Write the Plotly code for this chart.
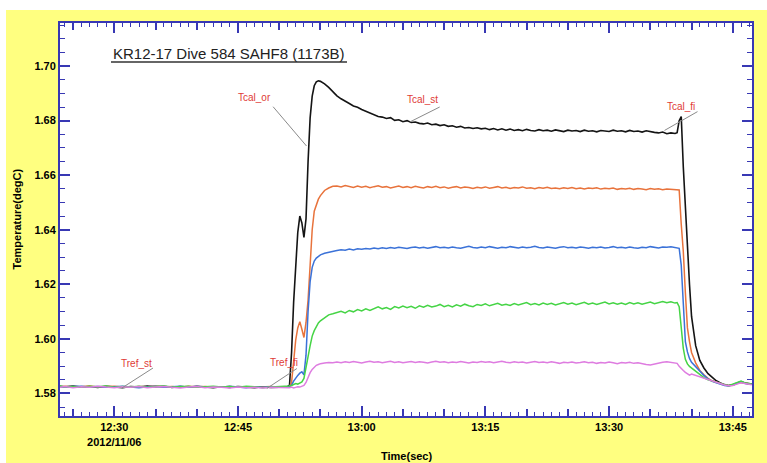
import pandas as pd
import plotly.graph_objects as go

# ---------------------------------------------------------------- data ----
DAY_START = pd.Timestamp("2012-11-06 12:00:00")

# sample times, minutes after 12:00
T_MIN = [
    23.4, 24, 25, 26, 27, 28, 29, 30, 31, 32, 33, 34, 35, 36, 37, 38, 39, 40,
    41, 42, 43, 44, 45, 46, 47, 48, 49, 50, 50.5, 51.0,
    51.25, 51.5, 51.75, 52.0, 52.25, 52.5, 52.75, 53.0, 53.25, 53.5, 53.75,
    54.0, 54.25, 54.5, 54.75, 55.0, 55.5, 56.0, 56.5,
    57, 57.5, 58, 58.5, 59, 59.5, 60, 60.5, 61, 61.5, 62, 62.5, 63, 63.5, 64,
    64.5, 65, 65.5, 66, 66.5, 67, 67.5, 68, 68.5, 69, 69.5, 70, 70.5, 71, 71.5,
    72, 72.5, 73, 73.5, 74, 74.5, 75, 75.5, 76, 76.5, 77, 77.5, 78, 78.5, 79,
    79.5, 80, 80.5, 81, 81.5, 82, 82.5, 83, 83.5, 84, 84.5, 85, 85.5, 86, 86.5,
    87, 87.5, 88, 88.5, 89, 89.5, 90, 90.5, 91, 91.5, 92, 92.5, 93, 93.5, 94,
    94.5, 95, 95.5, 96, 96.5, 97, 97.5, 98,
    98.25, 98.5, 98.75, 99.0, 99.25, 99.5, 99.75, 100.0,
    100.5, 101, 101.5, 102, 102.5, 103, 103.5, 104, 104.5, 105, 105.5, 106,
    106.5, 107, 107.3,
]

TCAL_OR = [
    1.5826, 1.5824, 1.5827, 1.5823, 1.5825, 1.5822, 1.5826, 1.5824, 1.5821, 1.5825,
    1.5823, 1.5827, 1.5824, 1.5826, 1.5822, 1.5825, 1.5823, 1.5826, 1.5824, 1.5821,
    1.5824, 1.5822, 1.5825, 1.5823, 1.5821, 1.5824, 1.5822, 1.5823, 1.5824, 1.5825,
    1.5830, 1.5950, 1.6135, 1.6290, 1.6390, 1.6450, 1.6425, 1.6372, 1.6440, 1.6650,
    1.6810, 1.6890, 1.6928, 1.6942, 1.6946, 1.6944, 1.6935, 1.6922, 1.6907,
    1.6891, 1.6880, 1.6870, 1.6863, 1.6854, 1.6849, 1.6841, 1.6835, 1.6829, 1.6822,
    1.6815, 1.6813, 1.6808, 1.6811, 1.6801, 1.6803, 1.6796, 1.6800, 1.6793, 1.6795,
    1.6790, 1.6788, 1.6791, 1.6785, 1.6787, 1.6782, 1.6785, 1.6779, 1.6781, 1.6776,
    1.6779, 1.6773, 1.6775, 1.6771, 1.6774, 1.6770, 1.6772, 1.6767, 1.6771, 1.6766,
    1.6770, 1.6765, 1.6769, 1.6764, 1.6767, 1.6763, 1.6768, 1.6764, 1.6762, 1.6767,
    1.6763, 1.6765, 1.6761, 1.6766, 1.6763, 1.6760, 1.6765, 1.6762, 1.6764, 1.6760,
    1.6765, 1.6761, 1.6763, 1.6759, 1.6764, 1.6762, 1.6760, 1.6765, 1.6761, 1.6763,
    1.6759, 1.6764, 1.6760, 1.6762, 1.6758, 1.6763, 1.6759, 1.6757, 1.6755, 1.6758,
    1.6752, 1.6755, 1.6753,
    1.6756, 1.6800, 1.6815, 1.6630, 1.6480, 1.6310, 1.6200, 1.6082,
    1.5975, 1.5921, 1.5893, 1.5872, 1.5858, 1.5846, 1.5838, 1.5832, 1.5829, 1.5831,
    1.5837, 1.5842, 1.5838, 1.5836, 1.5834,
]

ORANGE = [
    1.5823, 1.5826, 1.5822, 1.5825, 1.5827, 1.5823, 1.5824, 1.5826, 1.5823, 1.5822,
    1.5825, 1.5824, 1.5827, 1.5823, 1.5825, 1.5822, 1.5826, 1.5823, 1.5825, 1.5822,
    1.5823, 1.5825, 1.5822, 1.5824, 1.5822, 1.5823, 1.5825, 1.5822, 1.5824, 1.5823,
    1.5825, 1.5840, 1.5920, 1.5995, 1.6040, 1.6063, 1.6035, 1.6005, 1.6060, 1.6142,
    1.6270, 1.6400, 1.6468, 1.6495, 1.6512, 1.6525, 1.6544, 1.6553, 1.6559,
    1.6560, 1.6557, 1.6562, 1.6558, 1.6555, 1.6560, 1.6556, 1.6559, 1.6554, 1.6558,
    1.6561, 1.6556, 1.6558, 1.6553, 1.6557, 1.6560, 1.6555, 1.6558, 1.6554, 1.6559,
    1.6556, 1.6553, 1.6558, 1.6555, 1.6559, 1.6554, 1.6557, 1.6552, 1.6556, 1.6558,
    1.6553, 1.6557, 1.6555, 1.6551, 1.6556, 1.6553, 1.6557, 1.6552, 1.6555, 1.6558,
    1.6553, 1.6556, 1.6551, 1.6555, 1.6553, 1.6557, 1.6552, 1.6554, 1.6550, 1.6555,
    1.6552, 1.6556, 1.6551, 1.6553, 1.6550, 1.6554, 1.6551, 1.6555, 1.6550, 1.6553,
    1.6549, 1.6553, 1.6551, 1.6554, 1.6549, 1.6552, 1.6550, 1.6553, 1.6548, 1.6551,
    1.6549, 1.6552, 1.6548, 1.6551, 1.6549, 1.6547, 1.6551, 1.6548, 1.6550, 1.6547,
    1.6549, 1.6548, 1.6547,
    1.6548, 1.6546, 1.6420, 1.6320, 1.6170, 1.6040, 1.5990, 1.5950,
    1.5912, 1.5884, 1.5868, 1.5855, 1.5846, 1.5840, 1.5836, 1.5831, 1.5828, 1.5830,
    1.5836, 1.5840, 1.5837, 1.5835, 1.5833,
]

BLUE = [
    1.5824, 1.5822, 1.5825, 1.5826, 1.5823, 1.5825, 1.5822, 1.5824, 1.5826, 1.5823,
    1.5821, 1.5824, 1.5826, 1.5822, 1.5824, 1.5826, 1.5822, 1.5825, 1.5823, 1.5824,
    1.5822, 1.5826, 1.5823, 1.5821, 1.5824, 1.5822, 1.5824, 1.5823, 1.5822, 1.5824,
    1.5826, 1.5830, 1.5845, 1.5858, 1.5866, 1.5874, 1.5879, 1.5868, 1.5940, 1.6100,
    1.6210, 1.6262, 1.6285, 1.6296, 1.6304, 1.6308, 1.6314, 1.6318, 1.6321,
    1.6324, 1.6327, 1.6325, 1.6329, 1.6326, 1.6330, 1.6328, 1.6331, 1.6329, 1.6333,
    1.6330, 1.6334, 1.6331, 1.6335, 1.6332, 1.6336, 1.6333, 1.6331, 1.6335, 1.6337,
    1.6333, 1.6336, 1.6332, 1.6335, 1.6338, 1.6334, 1.6336, 1.6333, 1.6337, 1.6334,
    1.6332, 1.6336, 1.6339, 1.6335, 1.6333, 1.6337, 1.6334, 1.6338, 1.6335, 1.6332,
    1.6336, 1.6334, 1.6338, 1.6335, 1.6333, 1.6337, 1.6334, 1.6336, 1.6339, 1.6335,
    1.6333, 1.6337, 1.6334, 1.6332, 1.6336, 1.6338, 1.6334, 1.6336, 1.6333, 1.6337,
    1.6335, 1.6332, 1.6336, 1.6334, 1.6337, 1.6333, 1.6335, 1.6338, 1.6334, 1.6336,
    1.6333, 1.6337, 1.6334, 1.6332, 1.6336, 1.6334, 1.6338, 1.6335, 1.6333, 1.6337,
    1.6336, 1.6338, 1.6335,
    1.6334, 1.6332, 1.6270, 1.6120, 1.5990, 1.5952, 1.5928, 1.5914,
    1.5898, 1.5880, 1.5866, 1.5853, 1.5844, 1.5839, 1.5834, 1.5829, 1.5827, 1.5831,
    1.5838, 1.5843, 1.5836, 1.5834, 1.5833,
]

GREEN = [
    1.5827, 1.5823, 1.5825, 1.5822, 1.5826, 1.5824, 1.5827, 1.5822, 1.5825, 1.5823,
    1.5826, 1.5822, 1.5825, 1.5827, 1.5823, 1.5824, 1.5826, 1.5822, 1.5824, 1.5826,
    1.5823, 1.5825, 1.5822, 1.5826, 1.5824, 1.5821, 1.5823, 1.5825, 1.5824, 1.5826,
    1.5827, 1.5829, 1.5833, 1.5836, 1.5834, 1.5838, 1.5842, 1.5855, 1.5890, 1.5935,
    1.5975, 1.6010, 1.6030, 1.6046, 1.6058, 1.6066, 1.6078, 1.6088, 1.6092,
    1.6096, 1.6101, 1.6095, 1.6104, 1.6099, 1.6107, 1.6102, 1.6110, 1.6104, 1.6112,
    1.6117, 1.6110, 1.6115, 1.6108, 1.6118, 1.6113, 1.6120, 1.6114, 1.6119, 1.6112,
    1.6121, 1.6116, 1.6123, 1.6117, 1.6120, 1.6126, 1.6118, 1.6123, 1.6117, 1.6125,
    1.6120, 1.6127, 1.6121, 1.6118, 1.6126, 1.6122, 1.6128, 1.6121, 1.6125, 1.6130,
    1.6123, 1.6127, 1.6122, 1.6129, 1.6124, 1.6128, 1.6133, 1.6125, 1.6129, 1.6124,
    1.6131, 1.6126, 1.6130, 1.6124, 1.6128, 1.6133, 1.6127, 1.6131, 1.6125, 1.6130,
    1.6134, 1.6127, 1.6131, 1.6126, 1.6130, 1.6135, 1.6128, 1.6132, 1.6127, 1.6131,
    1.6126, 1.6133, 1.6128, 1.6132, 1.6127, 1.6131, 1.6135, 1.6129, 1.6133, 1.6137,
    1.6132, 1.6136, 1.6131,
    1.6133, 1.6118, 1.6045, 1.5965, 1.5925, 1.5908, 1.5899, 1.5893,
    1.5880, 1.5868, 1.5858, 1.5850, 1.5845, 1.5841, 1.5837, 1.5832, 1.5828, 1.5833,
    1.5840, 1.5845, 1.5838, 1.5836, 1.5834,
]

MAGENTA = [
    1.5822, 1.5825, 1.5821, 1.5824, 1.5822, 1.5826, 1.5823, 1.5821, 1.5824, 1.5822,
    1.5825, 1.5821, 1.5823, 1.5825, 1.5822, 1.5820, 1.5823, 1.5825, 1.5821, 1.5823,
    1.5822, 1.5820, 1.5823, 1.5821, 1.5822, 1.5820, 1.5822, 1.5821, 1.5820, 1.5822,
    1.5821, 1.5823, 1.5820, 1.5822, 1.5824, 1.5823, 1.5826, 1.5829, 1.5840, 1.5860,
    1.5876, 1.5888, 1.5896, 1.5903, 1.5906, 1.5909, 1.5911, 1.5913, 1.5912,
    1.5915, 1.5912, 1.5916, 1.5913, 1.5917, 1.5914, 1.5911, 1.5915, 1.5918, 1.5914,
    1.5916, 1.5912, 1.5915, 1.5918, 1.5913, 1.5916, 1.5912, 1.5915, 1.5917, 1.5913,
    1.5916, 1.5914, 1.5911, 1.5915, 1.5918, 1.5914, 1.5916, 1.5912, 1.5915, 1.5913,
    1.5917, 1.5914, 1.5911, 1.5915, 1.5913, 1.5917, 1.5914, 1.5916, 1.5912, 1.5915,
    1.5918, 1.5914, 1.5912, 1.5916, 1.5913, 1.5915, 1.5911, 1.5914, 1.5917, 1.5913,
    1.5915, 1.5912, 1.5916, 1.5913, 1.5910, 1.5914, 1.5912, 1.5915, 1.5911, 1.5913,
    1.5916, 1.5912, 1.5914, 1.5910, 1.5913, 1.5911, 1.5915, 1.5912, 1.5909, 1.5913,
    1.5911, 1.5914, 1.5910, 1.5912, 1.5908, 1.5906, 1.5904, 1.5908, 1.5911, 1.5914,
    1.5916, 1.5914, 1.5911,
    1.5910, 1.5899, 1.5890, 1.5884, 1.5877, 1.5872, 1.5867, 1.5871,
    1.5866, 1.5861, 1.5856, 1.5850, 1.5845, 1.5840, 1.5836, 1.5831, 1.5828, 1.5829,
    1.5834, 1.5839, 1.5836, 1.5834, 1.5832,
]

SERIES = [
    ("Tcal_or", TCAL_OR, "#141414", 1.6),
    ("ch2", ORANGE, "#e8733c", 1.5),
    ("ch3", BLUE, "#3b72d8", 1.5),
    ("ch4", GREEN, "#45d445", 1.5),
    ("ch5", MAGENTA, "#de7ce0", 1.5),
]

X_RANGE = [23.42, 107.33]          # minutes after 12:00
Y_RANGE = [1.5717, 1.7158]

LABEL_TIMES = [30, 45, 60, 75, 90, 105]
LABEL_TEXT = ["12:30<br>2012/11/06", "12:45", "13:00", "13:15", "13:30", "13:45"]

TITLE = "KR12-17 Dive 584 SAHF8 (1173B)"

# marker labels: text, text position (min, degC), leader line start/end (min, degC)
MARKERS = [
    ("Tcal_or", 46.99, 1.6885, 49.26, 1.6851, 53.31, 1.6707),
    ("Tcal_st", 67.34, 1.6879, 69.46, 1.6850, 65.83, 1.6795),
    ("Tcal_fi", 98.66, 1.6853, 100.72, 1.6833, 96.72, 1.6764),
    ("Tref_st", 32.69, 1.5911, 34.70, 1.5893, 30.94, 1.5820),
    ("Tref_fi", 50.56, 1.5915, 52.14, 1.5891, 48.50, 1.5818),
]

for _, vals, _, _ in SERIES:
    assert len(vals) == len(T_MIN)


def to_time(minutes):
    return DAY_START + pd.to_timedelta(minutes, unit="m")


# --------------------------------------------------------------- style ----
AXIS_BLUE = "#3838b4"
YELLOW = "#ffff80"
FONT = "Liberation Sans, Arial, sans-serif"

W, H = 767, 463
ML, MR, MT, MB = 60, 15, 23, 47
PW, PH = W - ML - MR, H - MT - MB


def px_x(x):
    return (x - ML) / PW


def px_y(y):
    return (H - MB - y) / PH


fig = go.Figure()

times = to_time(T_MIN)
for name, vals, color, width in SERIES:
    fig.add_trace(go.Scatter(
        x=times, y=vals, mode="lines", name=name,
        line=dict(color=color, width=width),
        showlegend=False, hoverinfo="skip",
    ))

# empty trace that carries the labelled time axis
fig.add_trace(go.Scatter(x=[], y=[], xaxis="x2", yaxis="y",
                         showlegend=False, hoverinfo="skip"))

x_range = [to_time(X_RANGE[0]), to_time(X_RANGE[1])]
tick_font = dict(family=FONT, size=11, color="black", weight="bold")

fig.update_layout(
    width=W, height=H,
    margin=dict(l=ML, r=MR, t=MT, b=MB),
    paper_bgcolor=YELLOW, plot_bgcolor="white",
    showlegend=False,
    xaxis=dict(
        type="date", range=x_range,
        tickmode="linear", tick0=DAY_START, dtick=300000,
        ticks="inside", ticklen=7, tickwidth=1.5, tickcolor=AXIS_BLUE,
        showticklabels=False,
        showline=True, linecolor=AXIS_BLUE, linewidth=2, mirror="ticks",
        showgrid=False, zeroline=False,
        minor=dict(tickmode="linear", tick0=DAY_START, dtick=60000,
                   ticks="inside", ticklen=4, tickwidth=1,
                   tickcolor=AXIS_BLUE, showgrid=False),
    ),
    xaxis2=dict(
        type="date", range=x_range, overlaying="x", anchor="y", side="bottom",
        tickmode="array", tickvals=to_time(LABEL_TIMES), ticktext=LABEL_TEXT,
        ticks="inside", ticklen=10, tickwidth=1.5, tickcolor=AXIS_BLUE,
        tickfont=tick_font,
        showline=True, linecolor=AXIS_BLUE, linewidth=2, mirror="ticks",
        showgrid=False, zeroline=False,
    ),
    yaxis=dict(
        range=Y_RANGE,
        tickmode="linear", tick0=1.58, dtick=0.02, tickformat=".2f",
        ticks="inside", ticklen=10, tickwidth=1.5, tickcolor=AXIS_BLUE,
        tickfont=tick_font,
        showline=True, linecolor=AXIS_BLUE, linewidth=2, mirror="ticks",
        showgrid=False, zeroline=False,
        minor=dict(tickmode="linear", tick0=1.58, dtick=0.005,
                   ticks="inside", ticklen=5, tickwidth=1,
                   tickcolor=AXIS_BLUE, showgrid=False),
    ),
)

annotations = [
    dict(text="Temperature(degC)", xref="paper", yref="paper",
         x=px_x(16), y=0.5, textangle=-90, showarrow=False,
         font=dict(family=FONT, size=11, color="black", weight="bold"),
         xanchor="center", yanchor="middle"),
    dict(text="Time(sec)", xref="paper", yref="paper",
         x=px_x(407), y=px_y(456), showarrow=False,
         font=dict(family=FONT, size=11, color="black", weight="bold"),
         xanchor="center", yanchor="middle"),
    dict(text=TITLE, xref="paper", yref="paper",
         x=px_x(111), y=px_y(53), showarrow=False,
         font=dict(family=FONT, size=15, color="#222222"),
         xanchor="left", yanchor="middle"),
]

shapes = [
    # white border strip on the left and top of the page
    dict(type="rect", xref="paper", yref="paper", layer="below",
         x0=px_x(-2), x1=px_x(6), y0=px_y(H + 2), y1=px_y(-2),
         fillcolor="white", line=dict(width=0)),
    dict(type="rect", xref="paper", yref="paper", layer="below",
         x0=px_x(-2), x1=px_x(W + 2), y0=px_y(10), y1=px_y(-2),
         fillcolor="white", line=dict(width=0)),
    # title underline
    dict(type="line", xref="paper", yref="paper",
         x0=px_x(111), x1=px_x(347), y0=px_y(62), y1=px_y(62),
         line=dict(color="#333333", width=1.5)),
]

for text, tx, ty, lx0, ly0, lx1, ly1 in MARKERS:
    annotations.append(dict(
        text=text, x=to_time(tx), y=ty, xref="x", yref="y",
        showarrow=False, xanchor="center", yanchor="middle",
        font=dict(family=FONT, size=10, color="#e03a36"),
    ))
    shapes.append(dict(
        type="line", xref="x", yref="y",
        x0=to_time(lx0), y0=ly0, x1=to_time(lx1), y1=ly1,
        line=dict(color="#8a8a8a", width=1),
    ))

fig.update_layout(annotations=annotations, shapes=shapes)

fig.write_html("out.html")
